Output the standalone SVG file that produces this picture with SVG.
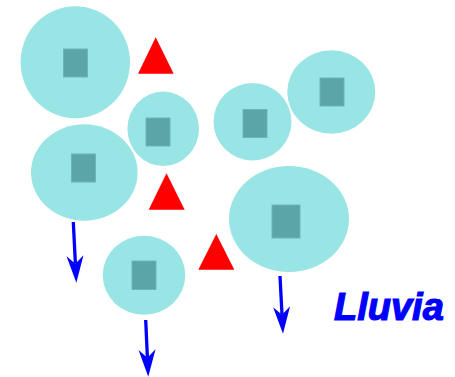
<svg xmlns="http://www.w3.org/2000/svg" width="455" height="377" viewBox="0 0 455 377">
<style>
.cell{fill:#99E4E4}
.core{fill:#5BA5A8;stroke:#6DB5B7;stroke-width:1}
.tri{fill:#FF0000}
.arr{stroke:#0000FF;stroke-width:3.3;fill:none}
.lbl{font-family:"Liberation Sans",Arial,sans-serif;font-weight:bold;font-style:italic;font-size:38px;fill:#0000FF;stroke:#0000FF;stroke-width:1.2}
</style>
<defs>
<marker id="ah" markerUnits="userSpaceOnUse" markerWidth="30" markerHeight="20" viewBox="0 -10 30 20" refX="8" refY="0" orient="auto">
<path d="M0,-8.5 L27,0 L0,8.5 L8,0 Z" fill="#0000FF"/>
</marker>
</defs>
<rect width="455" height="377" fill="#FFFFFF"/>
<g id="cell1"><ellipse class="cell" cx="75.3" cy="62.2" rx="54.7" ry="56"/><rect class="core" x="63.5" y="49" width="24" height="28"/></g>
<g id="cell2"><ellipse class="cell" cx="84.3" cy="172.5" rx="53.3" ry="48.2"/><rect class="core" x="71.5" y="154" width="24" height="28"/></g>
<g id="cell3"><ellipse class="cell" cx="163.2" cy="128.8" rx="35.8" ry="37.2"/><rect class="core" x="146" y="118" width="24" height="28"/></g>
<g id="cell4"><ellipse class="cell" cx="252.5" cy="121.7" rx="39" ry="38.7"/><rect class="core" x="243" y="109.5" width="24" height="28"/></g>
<g id="cell5"><ellipse class="cell" cx="331.3" cy="92" rx="44" ry="41.7"/><rect class="core" x="320" y="78" width="24" height="28"/></g>
<g id="cell6"><ellipse class="cell" cx="289" cy="219" rx="60" ry="53"/><rect class="core" x="272" y="205" width="28" height="33"/></g>
<g id="cell7"><ellipse class="cell" cx="144" cy="275.2" rx="41.3" ry="39.5"/><rect class="core" x="132" y="261" width="24" height="28.5"/></g>
<g id="tri1"><polygon class="tri" points="155.7,37.3 173.7,73.7 138,73.7"/></g>
<g id="tri2"><polygon class="tri" points="166.5,173.3 184.7,209.7 148.7,209.7"/></g>
<g id="tri3"><polygon class="tri" points="216.3,234 234.3,269.7 198.3,269.7"/></g>
<g id="connectors">
<line class="arr" x1="73.3" y1="222" x2="75.4" y2="263.7" marker-end="url(#ah)"/>
<line class="arr" x1="145.7" y1="320" x2="147.4" y2="357.7" marker-end="url(#ah)"/>
<line class="arr" x1="280" y1="276" x2="282" y2="314.7" marker-end="url(#ah)"/>
</g>
<g id="label"><text class="lbl" x="334" y="320">Lluvia</text></g>
</svg>
